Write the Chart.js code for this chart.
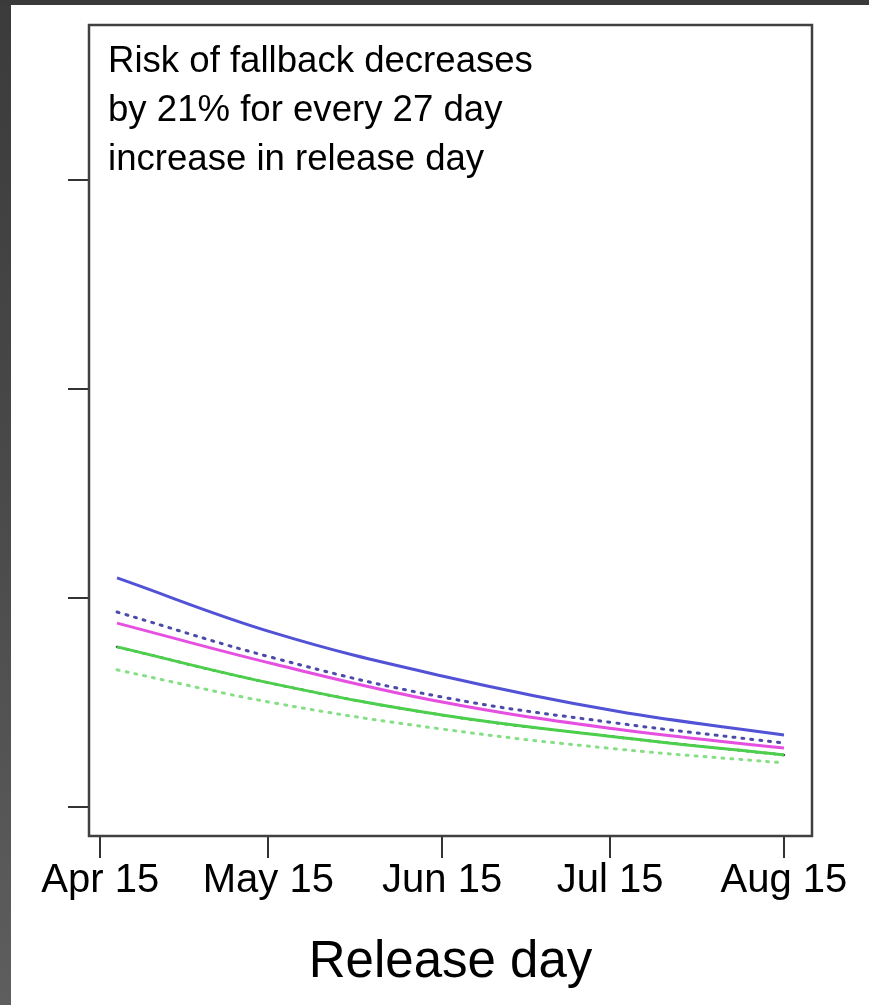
<!DOCTYPE html>
<html>
<head>
<meta charset="utf-8">
<title>Risk of fallback by release day</title>
<script src="https://cdn.jsdelivr.net/npm/chart.js@4.4.1/dist/chart.umd.min.js"></script>
<style>
  html, body { margin: 0; padding: 0; background: #454545; }
  #wrap { position: relative; width: 869px; height: 1005px; }
  canvas { display: block; }
</style>
</head>
<body>
<div id="wrap"><canvas id="chart" width="869" height="1005"></canvas></div>
<script>
// Release day, counted in days after April 15
const releaseDays = [3, 31, 61, 92, 122];

// Modelled risk of fallback for each group
const blueSolid    = [0.1096, 0.0833, 0.0627, 0.0459, 0.0344];
const blueDotted   = [0.0933, 0.0713, 0.0526, 0.0402, 0.0306];
const magentaSolid = [0.0880, 0.0684, 0.0502, 0.0373, 0.0282];
const greenSolid   = [0.0766, 0.0589, 0.0440, 0.0335, 0.0249];
const blackDotted  = [0.0766, 0.0589, 0.0440, 0.0335, 0.0249];
const greenDotted  = [0.0656, 0.0498, 0.0373, 0.0278, 0.0211];

// Axis ticks
const xTickDays   = [0, 30, 61, 91, 122];
const xTickLabels = ['Apr 15', 'May 15', 'Jun 15', 'Jul 15', 'Aug 15'];
const yTickValues = [0, 0.1, 0.2, 0.3];

const noteLines = [
  'Risk of fallback decreases',
  'by 21% for every 27 day',
  'increase in release day'
];

const FONT = '"Liberation Sans", Arial, Helvetica, sans-serif';

// Plot box geometry (pixels)
const BOX = { left: 89, right: 812, top: 25, bottom: 836 };
const PAD_BOTTOM = 11;

function pts(ys) {
  return releaseDays.map((d, i) => ({ x: d, y: ys[i] }));
}

function series(label, ys, color, width, dash) {
  return {
    label,
    data: pts(ys),
    borderColor: color,
    backgroundColor: color,
    borderWidth: width,
    borderDash: dash || [],
    borderCapStyle: dash ? 'round' : 'butt',
    pointRadius: 0,
    pointHoverRadius: 0,
    tension: 0.4,
    fill: false
  };
}

const framePlugin = {
  id: 'frame',
  beforeDraw(chart) {
    const c = chart.ctx;
    c.save();
    const g = c.createLinearGradient(0, 0, 0, chart.height);
    g.addColorStop(0, '#3b3b3b');
    g.addColorStop(0.5, '#4a4a4a');
    g.addColorStop(1, '#5e5e5e');
    c.fillStyle = g;
    c.fillRect(0, 0, chart.width, chart.height);
    c.fillStyle = '#3a3a3a';
    c.fillRect(0, 0, chart.width, 5);
    c.fillStyle = '#ffffff';
    c.fillRect(11, 5, chart.width - 11, chart.height - 5);
    c.restore();
  },
  afterDraw(chart) {
    const a = chart.chartArea;
    const c = chart.ctx;
    c.save();
    c.strokeStyle = '#404040';
    c.lineWidth = 2.5;
    c.strokeRect(a.left, a.top, a.right - a.left, a.bottom - a.top);
    c.fillStyle = '#000000';
    c.font = '36.6px ' + FONT;
    c.textBaseline = 'alphabetic';
    c.textAlign = 'left';
    noteLines.forEach((t, i) => c.fillText(t, 108, 72 + i * 49));
    c.restore();
  }
};

new Chart(document.getElementById('chart'), {
  type: 'line',
  data: {
    datasets: [
      series('Blue solid', blueSolid, '#5252d6', 3),
      series('Blue dotted', blueDotted, '#4a4aa8', 3, [2, 7]),
      series('Magenta solid', magentaSolid, '#e650e0', 3),
      series('Green solid', greenSolid, '#4ccf4c', 3),
      series('Black dotted', blackDotted, '#3a4a3a', 2.5, [2, 7]),
      series('Green dotted', greenDotted, '#86df86', 3, [2, 7])
    ]
  },
  options: {
    responsive: false,
    animation: false,
    events: [],
    layout: { padding: { top: BOX.top, right: 869 - BOX.right, left: 0, bottom: PAD_BOTTOM } },
    plugins: { legend: { display: false }, tooltip: { enabled: false } },
    scales: {
      x: {
        type: 'linear',
        min: -2,
        max: 127,
        afterBuildTicks: (s) => { s.ticks = xTickDays.map(v => ({ value: v })); },
        afterFit: (s) => { s.height = 1005 - PAD_BOTTOM - BOX.bottom; },
        ticks: {
          color: '#000',
          font: { family: FONT, size: 40, lineHeight: 1.1 },
          padding: 1,
          maxRotation: 0,
          autoSkip: false,
          callback: (v, i) => xTickLabels[i]
        },
        grid: { drawOnChartArea: false, drawTicks: true, tickLength: 22, color: '#333', lineWidth: 2 },
        border: { display: false },
        title: {
          display: true,
          text: 'Release day',
          color: '#000',
          font: { family: FONT, size: 51, lineHeight: 1.2 },
          padding: 0
        }
      },
      y: {
        type: 'linear',
        min: (BOX.bottom - 807) / -2090,
        max: (807 - BOX.top) / 2090,
        afterBuildTicks: (s) => { s.ticks = yTickValues.map(v => ({ value: v })); },
        afterFit: (s) => { s.width = BOX.left; },
        ticks: { display: false },
        grid: { drawOnChartArea: false, drawTicks: true, tickLength: 21, color: '#333', lineWidth: 2 },
        border: { display: false }
      }
    }
  },
  plugins: [framePlugin]
});
</script>
</body>
</html>
